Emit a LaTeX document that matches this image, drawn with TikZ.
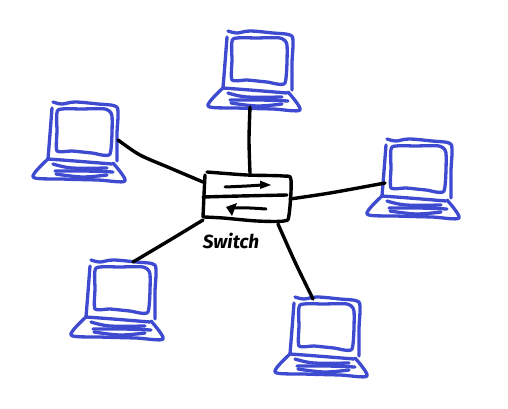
\documentclass[tikz,border=0pt]{standalone}
\usepackage{fontspec}
\setsansfont{Fira Sans}
\definecolor{penblue}{RGB}{62,74,208}
\tikzset{
  x=1pt,y=-1pt,
  bluepen/.style={draw=penblue,line width=3.3pt,line cap=round,line join=round},
  blackpen/.style={draw=black,line width=3.4pt,line cap=round,line join=round},
  thinpen/.style={draw=black,line width=3pt,line cap=round,line join=round},
  laptop/.pic={
    \draw[bluepen] plot[smooth,tension=.6] coordinates {(-22,-59) (-13,-57) (0,-59) (23,-57) (40,-55) (43,-48) (42,-27) (42,0)};
    \draw[bluepen] plot[smooth,tension=.6] coordinates {(-23,-53) (-25,-27) (-27,-2)};
    \draw[bluepen] plot[smooth cycle,tension=.35] coordinates {(-17,-51) (7,-52) (30,-52) (37,-45) (35,-7) (17,-8) (-3,-10) (-18,-10) (-18,-30)};
    \draw[bluepen] plot[smooth,tension=.6] coordinates {(-27,-2) (0,0) (37,3)};
    \draw[bluepen] plot[smooth,tension=.5] coordinates {(-27,-2) (-42,16) (-13,18) (23,19) (50,20) (38,2)};
    \draw[bluepen] plot[smooth,tension=.6] coordinates {(-22,3) (-3,7) (32,7)};
    \draw[bluepen] plot[smooth,tension=.6] coordinates {(-20,10) (10,10) (38,11)};
    \draw[bluepen] plot[smooth,tension=.6] coordinates {(-19,13) (7,16) (32,14)};
  }
}
\begin{document}
\begin{tikzpicture}
\useasboundingbox (0,0) rectangle (508,409);
% laptop reference points
\coordinate (lapTop) at (250,90);
\coordinate (lapLeft) at (75,161);
\coordinate (lapRight) at (409,198);
\coordinate (lapLowLeft) at (113,319);
\coordinate (lapLowRight) at (317,356);
\pic at (lapTop) {laptop};
\pic at (lapLeft) {laptop};
\pic at (lapRight) {laptop};
\pic at (lapLowLeft) {laptop};
\pic at (lapLowRight) {laptop};
% switch
\draw[blackpen] plot[smooth,tension=.5] coordinates {(207,172) (247,175) (283,176) (291,180) (289,215) (284,221) (257,221) (223,218) (204,217)};
\draw[blackpen] plot[smooth,tension=.5] coordinates {(205,175) (204,195) (203,217)};
\draw[blackpen] plot[smooth,tension=.5] coordinates {(203,197) (240,196) (287,195)};
\draw[thinpen] plot[smooth,tension=.5] coordinates {(225,187) (247,186) (262,185)};
\fill[black] (260,180.5) -- (271,185) -- (260,189) -- cycle;
\draw[thinpen] plot[smooth,tension=.5] coordinates {(266,209) (250,208) (233,208)};
\fill[black] (237,203) -- (226,207) -- (232,216) -- cycle;
\node[font=\sffamily\bfseries,inner sep=0pt,anchor=center] (label) at (231,241) {\fontsize{19}{19}\selectfont\itshape Switch};
% connectors
\coordinate (c1) at (250,107);
\coordinate (s1) at (250,173);
\coordinate (c2) at (118,140);
\coordinate (s2) at (203,182);
\coordinate (c3) at (385,183);
\coordinate (s3) at (290,199);
\coordinate (c4) at (133,262);
\coordinate (s4) at (203,220);
\coordinate (c5) at (313,299);
\coordinate (s5) at (278,224);
\draw[blackpen] plot[smooth,tension=.5] coordinates {(c1) (249,140) (s1)};
\draw[blackpen] plot[smooth,tension=.5] coordinates {(c2) (140,155) (170,168) (s2)};
\draw[blackpen] plot[smooth,tension=.5] coordinates {(s3) (330,193) (c3)};
\draw[blackpen] plot[smooth,tension=.5] coordinates {(s4) (170,240) (c4)};
\draw[blackpen] plot[smooth,tension=.5] coordinates {(s5) (295,262) (c5)};
\end{tikzpicture}
\end{document}
